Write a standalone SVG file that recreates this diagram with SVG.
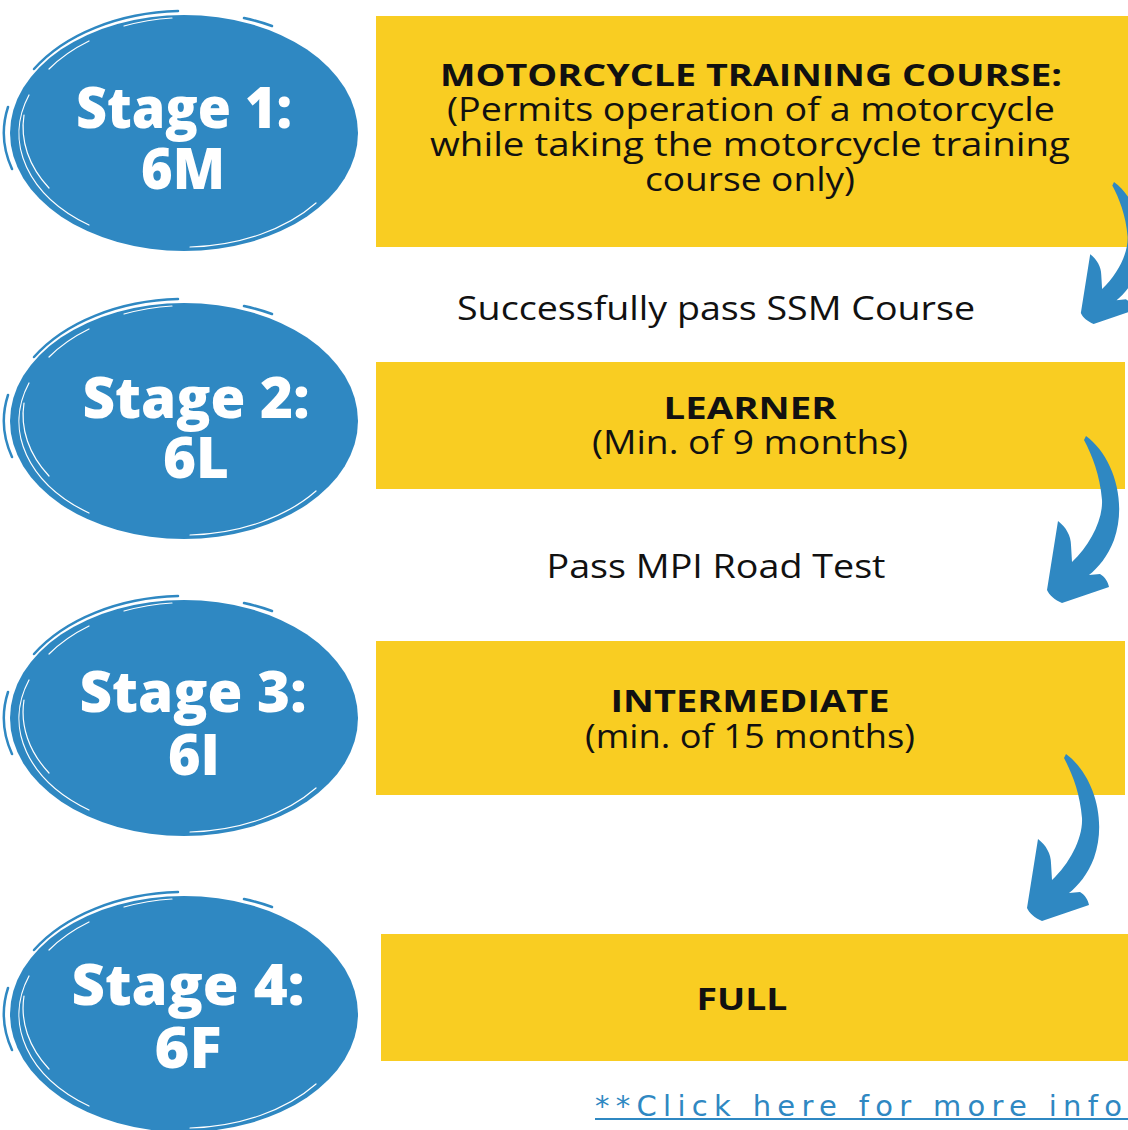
<svg xmlns="http://www.w3.org/2000/svg" xmlns:xlink="http://www.w3.org/1999/xlink" width="1128" height="1130" viewBox="0 0 1128 1130">
<style>
.box{fill:#F9CD22}
.st{font-family:"Open Sans","Liberation Sans",sans-serif;font-weight:800;fill:#fff;font-size:56px}
.bt{font-family:"Open Sans","Liberation Sans",sans-serif;font-weight:700;fill:#111;font-size:31px}
.rt{font-family:"Open Sans","Liberation Sans",sans-serif;font-weight:400;fill:#111;font-size:32px}
.lk{font-family:"DejaVu Sans","Open Sans",sans-serif;font-weight:400;fill:#2F88C2;font-size:29px}
.arrow{fill:#2F88C2}
.ws{fill:none;stroke:#fff;stroke-width:1.2;stroke-linecap:round}
.bs{fill:none;stroke:#2F88C2;stroke-width:2.5;stroke-linecap:round}
</style>
<defs>
<g id="blob">
<ellipse cx="0" cy="0" rx="174" ry="118" fill="#2F88C2"/>
<path class="bs" d="M-150,-64 A177 122 0 0 1 -6,-122"/>
<path class="bs" d="M-172,36 A178 121 0 0 1 -176,-26"/>
<path class="bs" d="M60,-115 A175 120 0 0 1 88,-107"/>
<path class="ws" d="M-155,-38 A165 112 0 0 0 -95,92"/>
<path class="ws" d="M-160,-18 A168 114 0 0 0 -135,55"/>
<path class="ws" d="M6,114 A168 114 0 0 0 132,70"/>
<path class="ws" d="M-95,-92 A165 112 0 0 0 -135,-64"/>
<path class="ws" d="M-60,-107 A172 116 0 0 1 -12,-115"/>
</g>
<path id="arr" d="M1086,436 C1112,455 1128,500 1114,540 C1108,556 1098,568 1089,575 L1100,574 C1105,577 1108,582 1109,587 L1062,603 C1055,600 1049,595 1047,590 L1058,521 C1066,527 1071,536 1071,545 L1072,562 C1090,545 1103,520 1102,500 C1100,475 1092,455 1084,440 Z"/>
</defs>

<g id="box1"><rect class="box" x="376" y="16" width="752" height="231"/>
<text class="bt" x="751" y="86" text-anchor="middle" textLength="622" lengthAdjust="spacingAndGlyphs">MOTORCYCLE TRAINING COURSE:</text>
<text class="rt" x="751" y="121" text-anchor="middle" textLength="608" lengthAdjust="spacingAndGlyphs">(Permits operation of a motorcycle</text>
<text class="rt" x="750" y="156" text-anchor="middle" textLength="640" lengthAdjust="spacingAndGlyphs">while taking the motorcycle training</text>
<text class="rt" x="750" y="191" text-anchor="middle" textLength="210" lengthAdjust="spacingAndGlyphs">course only)</text>
</g>
<g id="box2"><rect class="box" x="376" y="362" width="749" height="127"/>
<text class="bt" x="750" y="419" text-anchor="middle" textLength="173" lengthAdjust="spacingAndGlyphs">LEARNER</text>
<text class="rt" x="750" y="454" text-anchor="middle" textLength="316" lengthAdjust="spacingAndGlyphs">(Min. of 9 months)</text>
</g>
<g id="box3"><rect class="box" x="376" y="641" width="749" height="154"/>
<text class="bt" x="750" y="712" text-anchor="middle" textLength="279" lengthAdjust="spacingAndGlyphs">INTERMEDIATE</text>
<text class="rt" x="750" y="748" text-anchor="middle" textLength="330" lengthAdjust="spacingAndGlyphs">(min. of 15 months)</text>
</g>
<g id="box4"><rect class="box" x="381" y="934" width="747" height="127"/>
<text class="bt" x="742" y="1010" text-anchor="middle" textLength="91" lengthAdjust="spacingAndGlyphs">FULL</text>
</g>

<g id="stage1"><use xlink:href="#blob" transform="translate(184,133)"/>
<text class="st" x="184" y="128" text-anchor="middle" textLength="216" lengthAdjust="spacingAndGlyphs">Stage 1:</text>
<text class="st" x="183" y="189" text-anchor="middle" textLength="84" lengthAdjust="spacingAndGlyphs">6M</text>
</g>
<g id="stage2"><use xlink:href="#blob" transform="translate(184,421)"/>
<text class="st" x="196" y="418" text-anchor="middle" textLength="227" lengthAdjust="spacingAndGlyphs">Stage 2:</text>
<text class="st" x="196" y="478" text-anchor="middle" textLength="66" lengthAdjust="spacingAndGlyphs">6L</text>
</g>
<g id="stage3"><use xlink:href="#blob" transform="translate(184,718)"/>
<text class="st" x="193" y="712" text-anchor="middle" textLength="227" lengthAdjust="spacingAndGlyphs">Stage 3:</text>
<text class="st" x="194" y="775" text-anchor="middle" textLength="52" lengthAdjust="spacingAndGlyphs">6I</text>
</g>
<g id="stage4"><use xlink:href="#blob" transform="translate(184,1014)"/>
<text class="st" x="188" y="1005" text-anchor="middle" textLength="233" lengthAdjust="spacingAndGlyphs">Stage 4:</text>
<text class="st" x="188" y="1068" text-anchor="middle" textLength="67" lengthAdjust="spacingAndGlyphs">6F</text>
</g>

<g id="connectors">
<use xlink:href="#arr" class="arrow" transform="translate(1114,182) scale(0.85) translate(-1086,-436)"/>
<use xlink:href="#arr" class="arrow"/>
<use xlink:href="#arr" class="arrow" transform="translate(-20,318)"/>
<text class="rt" x="716" y="320" text-anchor="middle" textLength="518" lengthAdjust="spacingAndGlyphs">Successfully pass SSM Course</text>
<text class="rt" x="716" y="578" text-anchor="middle" textLength="339" lengthAdjust="spacingAndGlyphs">Pass MPI Road Test</text>
</g>

<g id="link">
<text class="lk" x="595" y="1116" textLength="527" lengthAdjust="spacing">**Click here for more info</text>
<rect x="595" y="1118" width="533" height="2" fill="#2F88C2"/>
</g>
</svg>
